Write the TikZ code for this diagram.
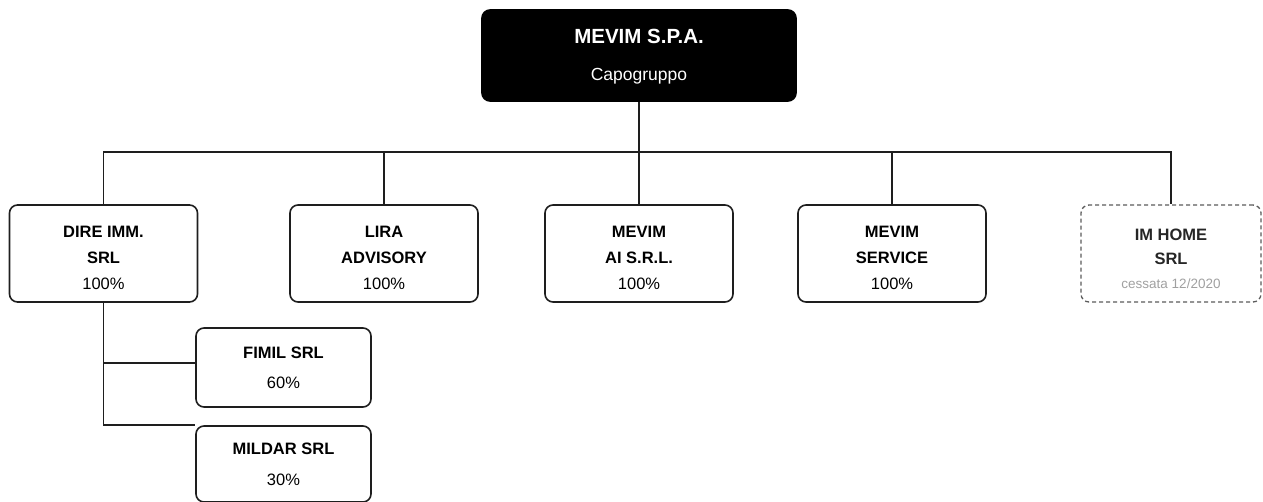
\documentclass[tikz,border=0pt]{standalone}
\usepackage{fontspec}
\setmainfont{Liberation Sans}
\definecolor{linegray}{RGB}{30,30,30}
\definecolor{dashgray}{RGB}{90,90,90}
\definecolor{notegray}{RGB}{160,160,160}
\newcommand\mystrut[1]{\rule{0pt}{#1}}
\tikzset{
  orgbox/.style={draw=linegray, line width=1.6pt, rounded corners=8pt, align=center, inner sep=0pt, text=black},
  childbox/.style={orgbox, minimum width=188pt, minimum height=97pt, font=\fontsize{16.5}{26}\selectfont},
  subbox/.style={orgbox, minimum width=175pt},
  conn/.style={draw=linegray, line width=1.6pt},
}
\begin{document}
\begin{tikzpicture}[x=1pt,y=-1pt]
\useasboundingbox (0,0) rectangle (1263,501);
\node[orgbox, fill=black, draw=black, minimum width=314pt, minimum height=91pt, text=white,
  font=\fontsize{17.5}{37}\selectfont] (top) at (639,55.5)
  {\mystrut{17pt}{\fontsize{20.5}{37}\selectfont\bfseries MEVIM S.P.A.}\\ Capogruppo};
\node[childbox] (dire) at (103.5,253.5) {\mystrut{20pt}\textbf{DIRE IMM.}\\ \textbf{SRL}\\ 100\%};
\node[childbox] (lira) at (384,253.5) {\mystrut{20pt}\textbf{LIRA}\\ \textbf{ADVISORY}\\ 100\%};
\node[childbox] (ai) at (639,253.5) {\mystrut{20pt}\textbf{MEVIM}\\ \textbf{AI S.R.L.}\\ 100\%};
\node[childbox] (serv) at (892,253.5) {\mystrut{20pt}\textbf{MEVIM}\\ \textbf{SERVICE}\\ 100\%};
\node[childbox, draw=dashgray, dashed, dash pattern=on 4pt off 3pt, line width=1.3pt, minimum width=180pt,
  font=\fontsize{16.5}{24}\selectfont] (home) at (1171,253.5)
  {\mystrut{22pt}\textcolor{black!85}{\textbf{IM HOME}}\\ \textcolor{black!85}{\textbf{SRL}}\\ {\fontsize{13.5}{24}\selectfont\color{notegray} cessata 12/2020}};
\node[subbox, minimum height=79pt, font=\fontsize{16.5}{30}\selectfont] (fimil) at (283.5,367.5) {\textbf{FIMIL SRL}\\ 60\%};
\node[subbox, minimum height=76pt, font=\fontsize{16.5}{31}\selectfont] (mildar) at (283.5,464) {\textbf{MILDAR SRL}\\ 30\%};
\coordinate (bus) at (639,152);
\coordinate (fj) at (103.5,363);
\draw[conn] (top.south) -- (bus);
\draw[conn] (dire.north) |- (bus) -| (home.north);
\draw[conn] (lira.north) -- (lira.north |- bus);
\draw[conn] (ai.north) -- (bus);
\draw[conn] (serv.north) -- (serv.north |- bus);
\draw[conn] (dire.south) |- (mildar.north west);
\draw[conn] (fj) -- (fj -| fimil.west);
\end{tikzpicture}
\end{document}
